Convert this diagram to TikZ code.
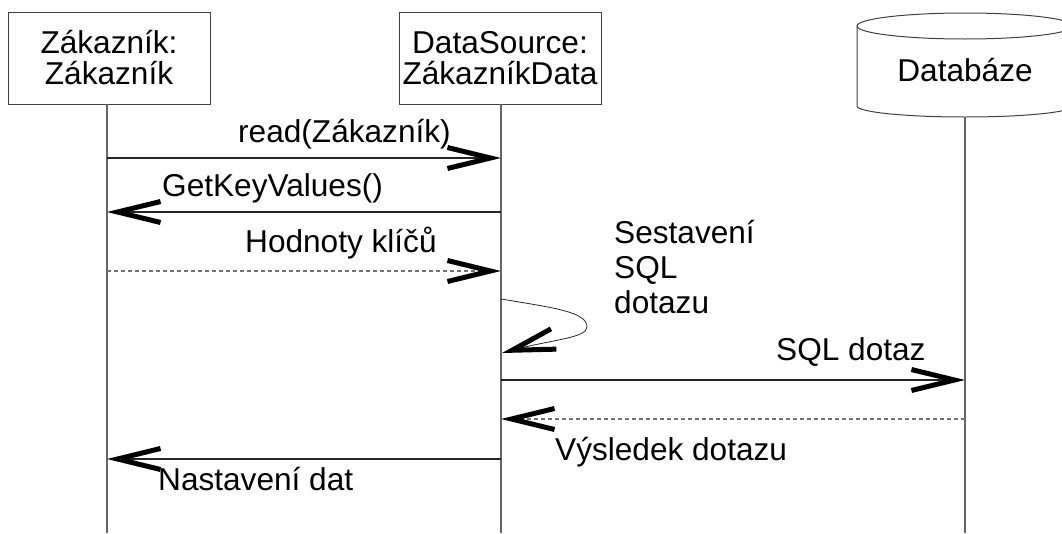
\documentclass[tikz,border=0pt]{standalone}
\usepackage{fontspec}
\setmainfont{Liberation Sans}
\usetikzlibrary{arrows.meta}
\begin{document}
\begin{tikzpicture}[x=1pt,y=-1pt,
  every node/.style={font=\fontsize{31.6}{31}\selectfont, inner sep=0pt},
  objbox/.style={draw=black!75, line width=1pt, minimum width=202pt, minimum height=92pt, align=center},
  life/.style={draw=black!60, line width=1.2pt},
  msg/.style={draw=black!85, line width=1.1pt, -{Straight Barb[length=43pt,width=21pt,line width=5pt,color=black]}},
  ret/.style={msg, draw=black!55, dash pattern=on 4pt off 3pt},
  lbl/.style={anchor=base west}]
\useasboundingbox (0,0) rectangle (1062,533);
% objects
\node[objbox] (zak) at (109,58) {Zákazník:\\Zákazník};
\node[objbox] (ds) at (500,58) {DataSource:\\ZákazníkData};
\draw[black!75, line width=1pt] (857,26) -- (857,106) arc[start angle=180,end angle=0,x radius=108,y radius=11] -- (1073,26);
\draw[black!75, line width=1pt] (965,26) ellipse [x radius=108, y radius=13];
\node (db) at (965,70) {Databáze};
% lifelines
\coordinate (L1t) at (107,104); \coordinate (L1b) at (107,533);
\coordinate (L2t) at (501,104); \coordinate (L2b) at (501,533);
\coordinate (L3t) at (965,117); \coordinate (L3b) at (965,533);
\draw[life] (L1t) -- (L1b);
\draw[life] (L2t) -- (L2b);
\draw[life] (L3t) -- (L3b);
% message points
\coordinate (a1) at (107,158); \coordinate (a2) at (501,158);
\coordinate (b1) at (501,212); \coordinate (b2) at (107,212);
\coordinate (c1) at (107,271); \coordinate (c2) at (501,271);
\coordinate (d1) at (501,299); \coordinate (d2) at (502,353);
\coordinate (e1) at (501,380); \coordinate (e2) at (965,380);
\coordinate (f1) at (965,419); \coordinate (f2) at (501,419);
\coordinate (g1) at (501,459); \coordinate (g2) at (107,459);
% messages
\draw[msg] (a1) -- (a2);
\draw[msg] (b1) -- (b2);
\draw[ret] (c1) -- (c2);
\draw[msg, line width=0.8pt] (d1) .. controls (555,308) and (587,312) .. (587,327) .. controls (587,338) and (550,340) .. (d2);
\draw[msg] (e1) -- (e2);
\draw[ret] (f1) -- (f2);
\draw[msg] (g1) -- (g2);
% labels
\node[lbl] (la) at (238,142) {read(Zákazník)};
\node[lbl] (lb) at (162,196) {GetKeyValues()};
\node[lbl] (lc) at (245,252) {Hodnoty klíčů};
\node[lbl] (ld1) at (614,243) {Sestavení};
\node[lbl] (ld2) at (614,278) {SQL};
\node[lbl] (ld3) at (614,313) {dotazu};
\node[lbl] (le) at (776,360) {SQL dotaz};
\node[lbl] (lf) at (555,460) {Výsledek dotazu};
\node[lbl] (lg) at (158,490) {Nastavení dat};
\end{tikzpicture}
\end{document}
